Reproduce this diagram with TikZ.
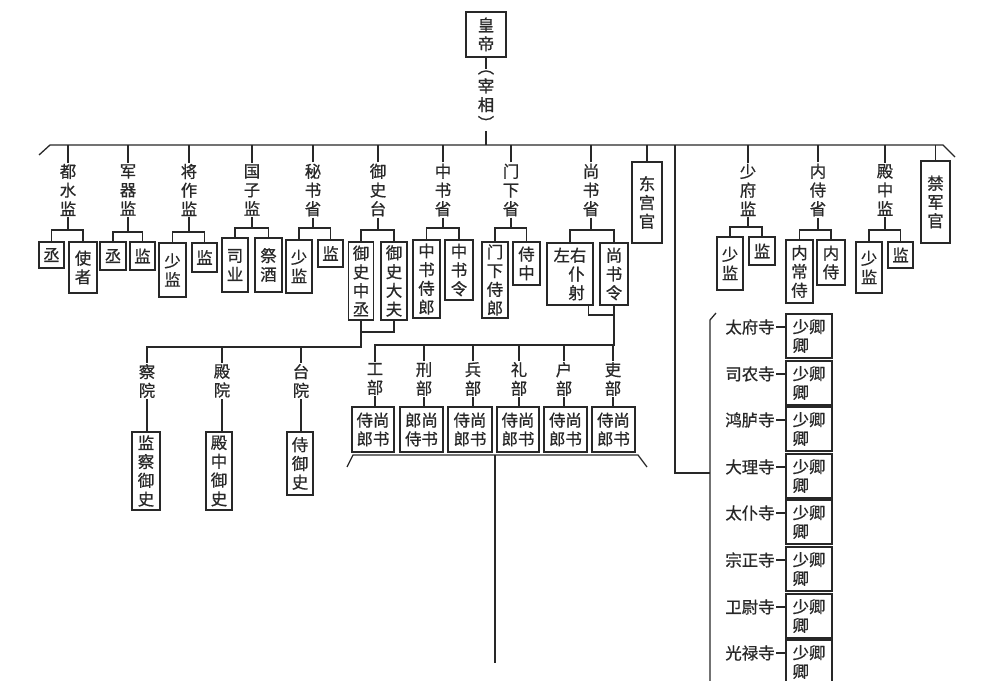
\documentclass[tikz,border=0pt]{standalone}
\usepackage{fontspec}
\newfontfamily\cjk[FakeBold=0.7]{Noto Sans CJK SC}
\usepackage{tikz}
\definecolor{ink}{RGB}{40,40,40}
\newcommand{\pxl}{0.3mm}
\newcommand{\hanzi}{\cjk\fontsize{14}{16}\selectfont}
\tikzset{
  guan/.style={draw=ink, line width=1.2pt, inner sep=0pt, align=center, font=\hanzi, text=ink},
  ming/.style={inner sep=1pt, align=center, font=\hanzi, text=ink},
  xian/.style={draw=ink, line width=1.1pt},
  sz/.style 2 args={minimum width=#1*\pxl, minimum height=#2*\pxl},
}
\begin{document}
\begin{tikzpicture}[x=\pxl, y=-\pxl]
        \useasboundingbox (0,0) rectangle (1002,681);
        \clip (0,0) rectangle (1002,681);
        \node[guan, sz={40}{45}] (hd) at (486,34.5) {皇\\帝};
        \node[ming] (zx) at (486,100) {︵\\宰\\相\\︶};
        \coordinate (barL) at (50,145);
        \coordinate (barR) at (943,145);
        \coordinate (endL) at (39,155);
        \coordinate (endR) at (955,157);
        \draw[xian] (endL) -- (barL) -- (barR) -- (endR);
        \draw[xian] (hd.south) -- (zx.north);
        \draw[xian] (zx.south) -- (zx.south |- barL);
        % top row
        \node[ming] (dsj) at (68,190) {都\\水\\监};
        \node[guan, sz={25}{26}] (dsj1) at (51.5,255) {丞};
        \node[guan, sz={28}{51}] (dsj2) at (83,267.5) {使\\者};
        \node[ming] (jqj) at (128,190) {军\\器\\监};
        \node[guan, sz={26}{28}] (jqj1) at (113,256) {丞};
        \node[guan, sz={25}{28}] (jqj2) at (142.5,256) {监};
        \node[ming] (jzj) at (189,190) {将\\作\\监};
        \node[guan, sz={27}{54}] (jzj1) at (172.5,270) {少\\监};
        \node[guan, sz={25}{29}] (jzj2) at (204.5,257.5) {监};
        \node[ming] (gzj) at (252,190) {国\\子\\监};
        \node[guan, sz={26}{54}] (gzj1) at (235,265) {司\\业};
        \node[guan, sz={27}{54}] (gzj2) at (268.5,265) {祭\\酒};
        \node[ming] (msh) at (313,190) {秘\\书\\省};
        \node[guan, sz={26}{53}] (msh1) at (299,266.5) {少\\监};
        \node[guan, sz={25}{27}] (msh2) at (330.5,253.5) {监};
        \node[ming] (yst) at (378,190) {御\\史\\台};
        \node[guan, sz={25}{78}] (yst1) at (361,281) {御\\史\\中\\丞};
        \node[guan, sz={26}{78}] (yst2) at (394,281) {御\\史\\大\\夫};
        \node[ming] (zsh) at (443,190) {中\\书\\省};
        \node[guan, sz={27}{78}] (zsh1) at (426.5,279) {中\\书\\侍\\郎};
        \node[guan, sz={28}{60}] (zsh2) at (459,270) {中\\书\\令};
        \node[ming] (mxs) at (511,190) {门\\下\\省};
        \node[guan, sz={26}{76}] (mxs1) at (495,280) {门\\下\\侍\\郎};
        \node[guan, sz={27}{43}] (mxs2) at (526.5,263.5) {侍\\中};
        \node[ming] (ssh) at (591,190) {尚\\书\\省};
        \node[guan, sz={46}{62}] (ssh1) at (570,274) {左右\\\hspace*{0.8em}仆\\\hspace*{0.8em}射};
        \node[guan, sz={28}{62}] (ssh2) at (614,274) {尚\\书\\令};
        \node[guan, sz={30}{81}] (dgg) at (647,202.5) {东\\宫\\官};
        \node[ming] (sfj) at (748,190) {少\\府\\监};
        \node[guan, sz={26}{53}] (sfj1) at (730,263.5) {少\\监};
        \node[guan, sz={26}{28}] (sfj2) at (762,251) {监};
        \node[ming] (nss) at (818,190) {内\\侍\\省};
        \node[guan, sz={27}{63}] (nss1) at (799.5,271.5) {内\\常\\侍};
        \node[guan, sz={28}{45}] (nss2) at (831,262.5) {内\\侍};
        \node[ming] (dzj) at (885,190) {殿\\中\\监};
        \node[guan, sz={26}{51}] (dzj1) at (869,267.5) {少\\监};
        \node[guan, sz={25}{26}] (dzj2) at (900.5,255) {监};
        \node[guan, sz={29}{82}] (jjg) at (935.5,202) {禁\\军\\官};
        \foreach \d in {dsj,jqj,jzj,gzj,msh,yst,zsh,mxs,ssh,dgg,sfj,nss,dzj,jjg}
          \draw[xian] (\d.north) -- (\d.north |- barL);
        \draw[xian] (dsj1.north) |- (dsj.south |- 0,230) -| (dsj2.north) (dsj.south) -- (dsj.south |- 0,230);
        \draw[xian] (jqj1.north) |- (jqj.south |- 0,232) -| (jqj2.north) (jqj.south) -- (jqj.south |- 0,232);
        \draw[xian] (jzj1.north) |- (jzj.south |- 0,232) -| (jzj2.north) (jzj.south) -- (jzj.south |- 0,232);
        \draw[xian] (gzj1.north) |- (gzj.south |- 0,228) -| (gzj2.north) (gzj.south) -- (gzj.south |- 0,228);
        \draw[xian] (msh1.north) |- (msh.south |- 0,228) -| (msh2.north) (msh.south) -- (msh.south |- 0,228);
        \draw[xian] (yst1.north) |- (yst.south |- 0,230) -| (yst2.north) (yst.south) -- (yst.south |- 0,230);
        \draw[xian] (zsh1.north) |- (zsh.south |- 0,228) -| (zsh2.north) (zsh.south) -- (zsh.south |- 0,228);
        \draw[xian] (mxs1.north) |- (mxs.south |- 0,228) -| (mxs2.north) (mxs.south) -- (mxs.south |- 0,228);
        \draw[xian] (ssh1.north) |- (ssh.south |- 0,230) -| (ssh2.north) (ssh.south) -- (ssh.south |- 0,230);
        \draw[xian] (sfj1.north) |- (sfj.south |- 0,227) -| (sfj2.north) (sfj.south) -- (sfj.south |- 0,227);
        \draw[xian] (nss1.north) |- (nss.south |- 0,230) -| (nss2.north) (nss.south) -- (nss.south |- 0,230);
        \draw[xian] (dzj1.north) |- (dzj.south |- 0,230) -| (dzj2.north) (dzj.south) -- (dzj.south |- 0,230);
        % three courts of the censorate
        \node[ming] (cy) at (147,381) {察\\院};
        \node[ming] (dy) at (222,381) {殿\\院};
        \node[ming] (ty) at (301,381) {台\\院};
        \node[guan, sz={28}{78}] (cy1) at (146,471) {监\\察\\御\\史};
        \node[guan, sz={26}{78}] (dy1) at (219,471) {殿\\中\\御\\史};
        \node[guan, sz={26}{63}] (ty1) at (300,463.5) {侍\\御\\史};
        \draw[xian] (yst2.south) |- (yst1.south |- 0,332);
        \draw[xian] (yst1.south) |- (cy.north |- 0,347) -- (cy.north);
        \draw[xian] (dy.north) -- (dy.north |- 0,347);
        \draw[xian] (ty.north) -- (ty.north |- 0,347);
        \draw[xian] (cy.south) -- (cy.south |- cy1.north);
        \draw[xian] (dy.south) -- (dy.south |- dy1.north);
        \draw[xian] (ty.south) -- (ty.south |- ty1.north);
        % six ministries
        \node[ming] (gbu) at (375,379) {工\\部};
        \node[ming] (xbu) at (424,379) {刑\\部};
        \node[ming] (bbu) at (473,379) {兵\\部};
        \node[ming] (lbu) at (519,379) {礼\\部};
        \node[ming] (hbu) at (564,379) {户\\部};
        \node[ming] (lib) at (613,379) {吏\\部};
        \node[guan, sz={42}{45}] (gbu1) at (373,429.5) {侍尚\\郎书};
        \node[guan, sz={43}{45}] (xbu1) at (421.5,429.5) {郎尚\\侍书};
        \node[guan, sz={44}{45}] (bbu1) at (470,429.5) {侍尚\\郎书};
        \node[guan, sz={42}{45}] (lbu1) at (518,429.5) {侍尚\\郎书};
        \node[guan, sz={43}{45}] (hbu1) at (565.5,429.5) {侍尚\\郎书};
        \node[guan, sz={43}{45}] (lib1) at (613.5,429.5) {侍尚\\郎书};
        \draw[xian] (ssh1.-60) |- (ssh2.south |- 0,315);
        \draw[xian] (ssh2.south) |- (gbu.north |- 0,345) -- (gbu.north);
        \foreach \b in {xbu,bbu,lbu,hbu,lib}
          \draw[xian] (\b.north) -- (\b.north |- 0,345);
        \foreach \b in {gbu,xbu,bbu,lbu,hbu,lib}
          \draw[xian] (\b.south) -- (\b.south |- \b1.north);
        \coordinate (bkL1) at (347,467);
        \coordinate (bkL2) at (353,455);
        \coordinate (bkR2) at (638,455);
        \coordinate (bkR1) at (647,467);
        \coordinate (xia) at (495,663);
        \draw[xian] (bkL1) -- (bkL2) -- (bkR2) -- (bkR1);
        \draw[xian] (xia |- bkL2) -- (xia);
        % nine courts
        \coordinate (zhe) at (675,473);
        \coordinate (jsT) at (716,313);
        \coordinate (jsA) at (710,320);
        \coordinate (jsB) at (710,690);
        \draw[xian] (zhe |- barL) -- (zhe) -- (zhe -| jsA);
        \draw[xian] (jsT) -- (jsA) -- (jsB);
        \node[ming, anchor=east] (tfs) at (776,327) {太府寺};
        \node[ming, anchor=east] (sns) at (776,374) {司农寺};
        \node[ming, anchor=east] (hls) at (776,420) {鸿胪寺};
        \node[ming, anchor=east] (dls) at (776,467) {大理寺};
        \node[ming, anchor=east] (tps) at (776,513) {太仆寺};
        \node[ming, anchor=east] (zzs) at (776,560) {宗正寺};
        \node[ming, anchor=east] (wws) at (776,607) {卫尉寺};
        \node[ming, anchor=east] (gls) at (776,653) {光禄寺};
        \node[guan, sz={46}{44}, align=left] (tfs1) at (809,336) {少卿\\卿};
        \node[guan, sz={46}{44}, align=left] (sns1) at (809,383) {少卿\\卿};
        \node[guan, sz={46}{44}, align=left] (hls1) at (809,429) {少卿\\卿};
        \node[guan, sz={46}{44}, align=left] (dls1) at (809,476) {少卿\\卿};
        \node[guan, sz={46}{44}, align=left] (tps1) at (809,522) {少卿\\卿};
        \node[guan, sz={46}{44}, align=left] (zzs1) at (809,569) {少卿\\卿};
        \node[guan, sz={46}{44}, align=left] (wws1) at (809,616) {少卿\\卿};
        \node[guan, sz={46}{44}, align=left] (gls1) at (809,662) {少卿\\卿};
        \foreach \s in {tfs,sns,hls,dls,tps,zzs,wws,gls}
          \draw[xian] (\s.east) -- (\s.east -| \s1.west);
\end{tikzpicture}
\end{document}
